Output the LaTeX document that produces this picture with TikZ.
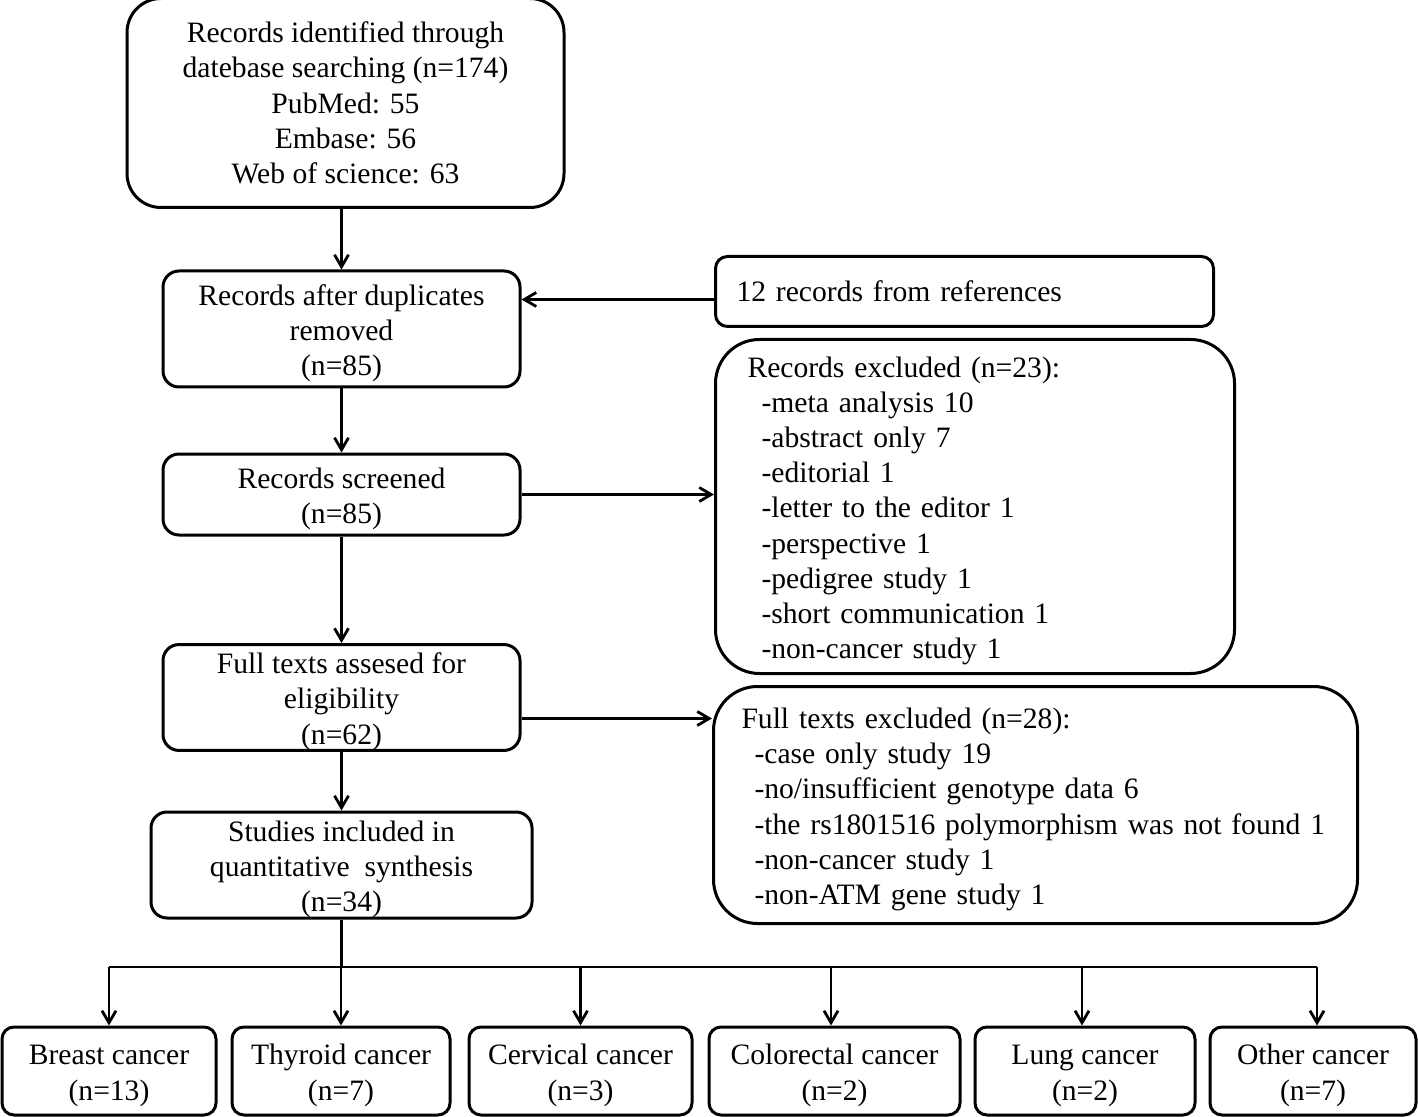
\documentclass[tikz,border=0pt]{standalone}
\usepackage{fontspec}
\setmainfont{Liberation Serif}
\usetikzlibrary{arrows.meta}

\newcommand{\boxtop}{\rule{0pt}{14.6pt}}

\tikzstyle{flowbox}=[rectangle, draw, line width=1.5pt, rounded corners=8pt, align=center, inner sep=0pt]
\tikzstyle{exclbox}=[flowbox, rounded corners=22pt, anchor=north west, align=left]
\tikzstyle{catbox}=[flowbox, rounded corners=6pt, minimum height=44pt]
\tikzstyle{flow}=[line width=1.4pt, -{Straight Barb[length=6pt,width=7pt,line width=1.4pt]}]
\tikzstyle{link}=[line width=1.4pt]

\begin{document}
\begin{tikzpicture}[x=0.5pt, y=-0.5pt, font=\fontsize{14.8pt}{17.6pt}\selectfont]
\useasboundingbox (0,0) rectangle (1418,1117);

% main column
\node[flowbox, rounded corners=17pt, minimum width=218.5pt, minimum height=104.5pt] (ident) at (345.5,103)
  {Records identified through\\datebase searching (n=174)\\PubMed: 55\\Embase: 56\\Web of science: 63};
\node[flowbox, minimum width=178.5pt, minimum height=58pt] (dup) at (341.5,329)
  {\boxtop Records after duplicates\\removed\\(n=85)};
\node[flowbox, minimum width=178.5pt, minimum height=40.5pt] (screened) at (341.5,494.5)
  {\boxtop Records screened\\(n=85)};
\node[flowbox, minimum width=178.5pt, minimum height=52.5pt] (fulltext) at (341.5,697.5)
  {\boxtop Full texts assesed for\\eligibility\\(n=62)};
\node[flowbox, minimum width=190.5pt, minimum height=53pt] (incl) at (341.5,865)
  {\boxtop Studies included in\\quantitative~ synthesis\\(n=34)};

% side boxes
\node[flowbox, rounded corners=6pt, anchor=north west, align=left, minimum width=249pt, minimum height=35pt,
  inner xsep=10.5pt, text width=228pt] (refs) at (714,255) {12 records from references};
\node[exclbox, minimum width=259.5pt, minimum height=167pt, inner xsep=16pt, text width=227.5pt] (excl1) at (714,338)
  {\boxtop Records excluded (n=23):\\
   \hspace*{7pt}-meta analysis 10\\
   \hspace*{7pt}-abstract only 7\\
   \hspace*{7pt}-editorial 1\\
   \hspace*{7pt}-letter to the editor 1\\
   \hspace*{7pt}-perspective 1\\
   \hspace*{7pt}-pedigree study 1\\
   \hspace*{7pt}-short communication 1\\
   \hspace*{7pt}-non-cancer study 1};
\node[exclbox, minimum width=322pt, minimum height=118.5pt, inner xsep=14pt, text width=294pt] (excl2) at (712,685)
  {\boxtop Full texts excluded (n=28):\\
   \hspace*{6.5pt}-case only study 19\\
   \hspace*{6.5pt}-no/insufficient genotype data 6\\
   \hspace*{6.5pt}-the rs1801516 polymorphism was not found 1\\
   \hspace*{6.5pt}-non-cancer study 1\\
   \hspace*{6.5pt}-non-ATM gene study 1};

% cancer types
\node[catbox, minimum width=107pt] (breast) at (109,1071) {\boxtop Breast cancer\\(n=13)};
\node[catbox, minimum width=109pt] (thyroid) at (341,1071) {\boxtop Thyroid cancer\\(n=7)};
\node[catbox, minimum width=111.5pt] (cervical) at (580.5,1071) {\boxtop Cervical cancer\\(n=3)};
\node[catbox, minimum width=125.5pt] (colorectal) at (834.5,1071) {\boxtop Colorectal cancer\\(n=2)};
\node[catbox, minimum width=110pt] (lung) at (1085,1071) {\boxtop Lung cancer\\(n=2)};
\node[catbox, minimum width=103pt] (other) at (1313,1071) {\boxtop Other cancer\\(n=7)};

% connectors
\draw[flow] (dup.north |- ident.south) -- (dup.north);
\draw[flow] ([yshift=-4pt]refs.west) -- ([yshift=-4pt]refs.west -| dup.east);
\draw[flow] (dup) -- (screened);
\draw[flow] (screened) -- (screened -| excl1.west);
\draw[flow] (screened) -- (fulltext);
\draw[flow] ([yshift=-10.5pt]fulltext.east) -- ([yshift=-10.5pt]fulltext.east -| excl2.west);
\draw[flow] (fulltext) -- (incl);

% split to cancer types
\coordinate (bus) at (341.5,967);
\coordinate (busL) at (109,967);
\coordinate (busC) at (831,967);
\coordinate (busG) at (1082,967);
\coordinate (busR) at (1317,967);
\draw[link] (incl) -- (bus);
\draw[link] (busL) -- (busR);
\draw[flow] (busL) -- (busL |- breast.north);
\draw[flow] (bus -| thyroid) -- (thyroid);
\draw[flow] (bus -| cervical) -- (cervical);
\draw[flow] (busC) -- (busC |- colorectal.north);
\draw[flow] (busG) -- (busG |- lung.north);
\draw[flow] (busR) -- (busR |- other.north);
\end{tikzpicture}
\end{document}
